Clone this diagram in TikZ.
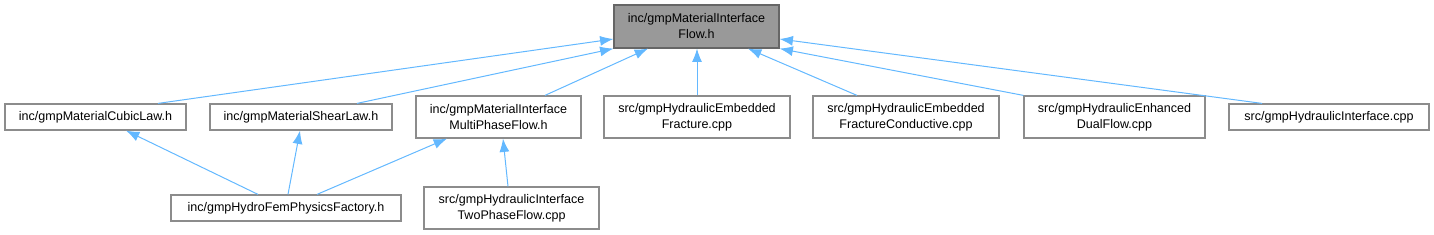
\documentclass[tikz,border=0pt]{standalone}
\usepackage{fontspec}
\setmainfont{Liberation Sans}
\usetikzlibrary{arrows.meta,calc}
\definecolor{edgeblue}{HTML}{63B8FF}
\definecolor{nodeborder}{HTML}{8C8C8C}
\definecolor{mainfill}{HTML}{999999}
\definecolor{mainborder}{HTML}{666666}
\begin{document}
\begin{tikzpicture}[x=0.75pt,y=-0.75pt,
  box/.style={draw=nodeborder, fill=white, line width=0.9pt, inner sep=0pt, align=center,
    font=\fontsize{9.4}{12}\selectfont},
  mainbox/.style={box, draw=mainborder, fill=mainfill},
  sz/.style 2 args={minimum width=#1*0.75pt, minimum height=#2*0.75pt},
  edge/.style={draw=edgeblue, line width=0.75pt, -{Latex[length=10pt,width=7.5pt]}}]
\useasboundingbox (0,0) rectangle (1434,235);
\node[mainbox, sz={165}{43}] (top) at (696.5,26.5) {inc/gmpMaterialInterface\\Flow.h};
\node[box, sz={181}{26}] (cubic) at (95.5,117) {inc/gmpMaterialCubicLaw.h};
\node[box, sz={182}{26}] (shear) at (301,117) {inc/gmpMaterialShearLaw.h};
\node[box, sz={165}{42}] (multi) at (498.5,117) {inc/gmpMaterialInterface\\MultiPhaseFlow.h};
\node[box, sz={186}{42}] (embfrac) at (697,117) {src/gmpHydraulicEmbedded\\Fracture.cpp};
\node[box, sz={186}{42}] (fraccond) at (906,117) {src/gmpHydraulicEmbedded\\FractureConductive.cpp};
\node[box, sz={181}{42}] (dual) at (1114.5,117) {src/gmpHydraulicEnhanced\\DualFlow.cpp};
\node[box, sz={200}{26}] (hydint) at (1329,117) {src/gmpHydraulicInterface.cpp};
\node[box, sz={230}{26}] (factory) at (286,208) {inc/gmpHydroFemPhysicsFactory.h};
\node[box, sz={175}{42}] (twophase) at (511.5,208) {src/gmpHydraulicInterface\\TwoPhaseFlow.cpp};

\draw[edge] ($(cubic.north)+(62.5,0)$) -- ($(top.west)+(0,12.5)$);
\draw[edge] ($(shear.north)+(56,0)$) -- (top.south west);
\draw[edge] ($(multi.north)+(46.5,0)$) -- ($(top.south)+(-48.5,0)$);
\draw[edge] (embfrac.north) -- (embfrac.north |- top.south);
\draw[edge] ($(fraccond.north)+(-49,0)$) -- ($(top.south)+(51.5,0)$);
\draw[edge] (dual.north west) -- (top.south east);
\draw[edge] ($(hydint.north)+(-67,0)$) -- ($(top.east)+(0,12.5)$);
\draw[edge] ($(factory.north)+(-28,0)$) -- ($(cubic.south)+(30.5,0)$);
\draw[edge] ($(factory.north)+(2,0)$) -- ($(shear.south)+(-1,0)$);
\draw[edge] ($(factory.north)+(31,0)$) -- ($(multi.south)+(-51.5,0)$);
\draw[edge] ($(twophase.north)+(-3.5,0)$) -- ($(multi.south)+(4.5,0)$);
\end{tikzpicture}
\end{document}
